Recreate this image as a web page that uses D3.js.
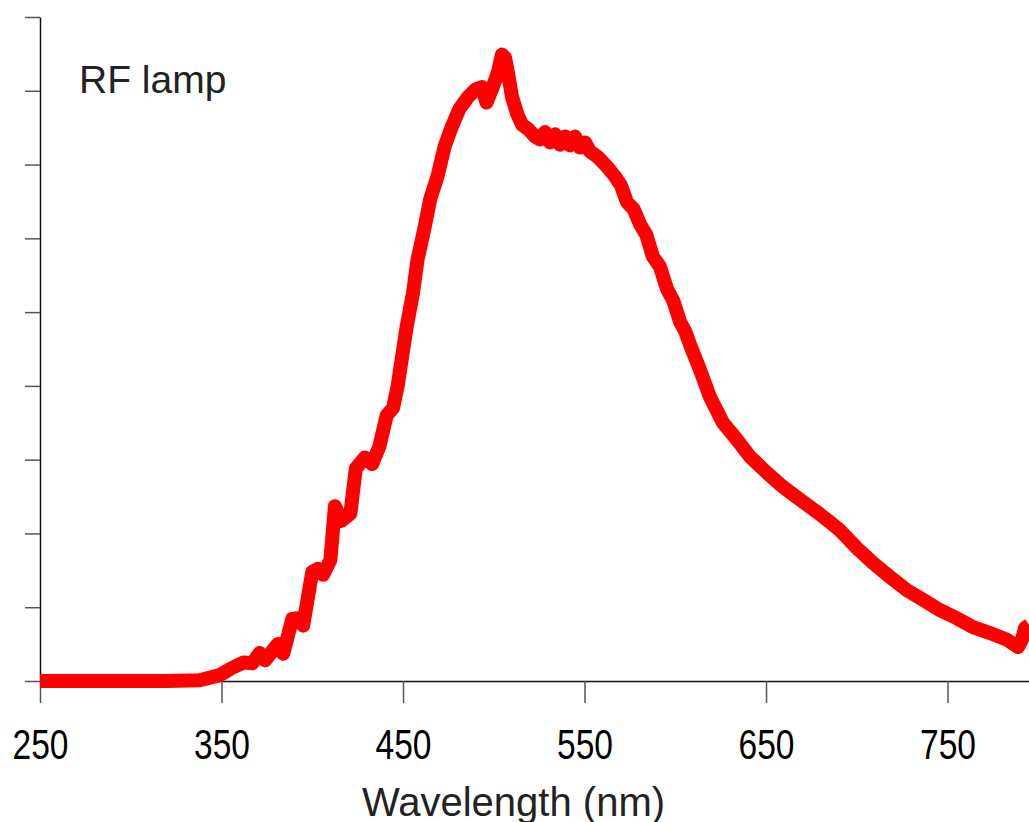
<!DOCTYPE html>
<html>
<head>
<meta charset="utf-8">
<script src="https://cdn.jsdelivr.net/npm/d3@7"></script>
<style>
  html, body { margin: 0; padding: 0; background: #fff; }
  svg { display: block; }
</style>
</head>
<body>
<svg id="chart" width="1029" height="822"></svg>
<script>
// ---- data ----
const wavelength = [
  250, 270, 300, 320, 338, 349, 356, 362, 367, 371, 374, 381, 384, 389, 392, 395,
  400, 403, 406, 410, 412.5, 416, 421, 424, 429, 433, 437, 441, 444.5, 447, 452, 455.5,
  458, 462, 465, 469, 473, 477, 481, 486, 490, 493.5, 496, 499.6, 502.3, 504.5, 506.2,
  508, 510, 513, 515.6, 519, 522.7, 525.5, 528.2, 531, 533.7, 536.5, 539.3, 542, 544.8,
  547.5, 550.3, 553, 557.4, 562.4, 566.8, 570, 573.4, 577, 580.6, 584, 587.7, 591.5, 595.5,
  599, 602.6, 605.5, 608.1, 613.6, 619.1, 626.3, 634, 641.2, 650.6, 659.4, 668.7, 678.1,
  686.9, 690.8, 700.1, 708.9, 718.3, 727.7, 736.5, 745.9, 755.2, 764, 773.4, 782.8,
  788.8, 791, 792.7, 795
];
const intensity = [
  0, 0, 0, 0, 0.01, 0.08, 0.18, 0.25, 0.24, 0.38, 0.28, 0.50, 0.37, 0.84, 0.85, 0.75,
  1.48, 1.52, 1.44, 1.64, 2.37, 2.17, 2.27, 2.88, 3.03, 2.94, 3.18, 3.60, 3.70, 3.99, 4.80, 5.26,
  5.71, 6.16, 6.53, 6.84, 7.25, 7.52, 7.75, 7.92, 8.02, 8.05, 7.84, 8.06, 8.25, 8.49, 8.45,
  8.22, 7.92, 7.68, 7.54, 7.48, 7.38, 7.34, 7.44, 7.30, 7.41, 7.27, 7.38, 7.26, 7.38,
  7.23, 7.30, 7.18, 7.10, 6.97, 6.84, 6.72, 6.49, 6.40, 6.19, 6.05, 5.75, 5.62, 5.31,
  5.15, 4.87, 4.74, 4.56, 4.22, 3.85, 3.50, 3.27, 3.04, 2.82, 2.63, 2.46, 2.29,
  2.12, 2.04, 1.80, 1.60, 1.41, 1.23, 1.10, 0.96, 0.85, 0.73, 0.65, 0.56,
  0.46, 0.56, 0.72, 0.76
];
const xTicks = [250, 350, 450, 550, 650, 750];
const yTicks = [0, 1, 2, 3, 4, 5, 6, 7, 8, 9];
const xTitle = "Wavelength (nm)";
const seriesLabel = "RF lamp";

const points = wavelength.map((w, i) => ({ w, v: intensity[i] }));

const svg = d3.select("#chart");
const x = d3.scaleLinear().domain([250, 795]).range([40, 1029.2]);
const y = d3.scaleLinear().domain([0, 9]).range([681, 17]);

// y axis (no labels)
const gy = svg.append("g").attr("transform", "translate(40,0)")
  .call(d3.axisLeft(y).tickValues(yTicks).tickSize(15).tickSizeOuter(0).tickFormat(""));
gy.select(".domain").attr("stroke", "#111").attr("stroke-width", 1.5);
gy.selectAll(".tick line").attr("stroke", "#555").attr("stroke-width", 1.5);

// x axis
const gx = svg.append("g").attr("transform", "translate(0,681)")
  .call(d3.axisBottom(x).tickValues(xTicks).tickSize(22).tickSizeOuter(0).tickFormat(d3.format("d")));
gx.select(".domain").attr("stroke", "#111").attr("stroke-width", 1.5);
gx.selectAll(".tick line").attr("stroke", "#555").attr("stroke-width", 1.5);
gx.selectAll(".tick text")
  .attr("y", 78).attr("dy", 0)
  .attr("fill", "#000")
  .attr("textLength", 56)
  .attr("lengthAdjust", "spacingAndGlyphs")
  .style("font-family", "'Liberation Sans', Arial, sans-serif")
  .style("font-size", "43px");

// line
const line = d3.line().x(d => x(d.w)).y(d => y(d.v)).curve(d3.curveLinear);
svg.append("path").datum(points)
  .attr("d", line)
  .attr("fill", "none")
  .attr("stroke", "#ff0000")
  .attr("stroke-width", 14)
  .attr("stroke-linejoin", "round");

// texts
svg.append("text").attr("x", 79).attr("y", 93)
  .attr("fill", "#222")
  .style("font-family", "'Liberation Sans', Arial, sans-serif")
  .style("font-size", "39px")
  .text(seriesLabel);

svg.append("text").attr("x", 513.5).attr("y", 816)
  .attr("text-anchor", "middle")
  .attr("fill", "#222")
  .style("font-family", "'Liberation Sans', Arial, sans-serif")
  .style("font-size", "40px")
  .text(xTitle);
</script>
</body>
</html>
